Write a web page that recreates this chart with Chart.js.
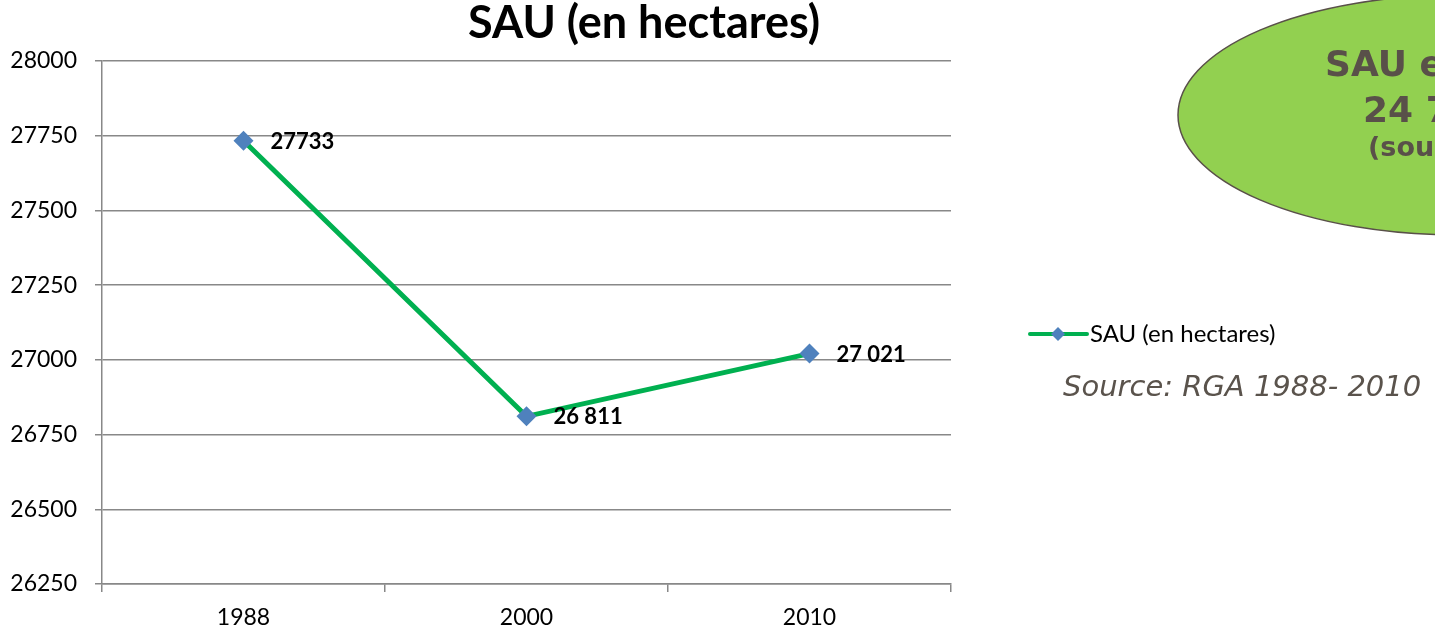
<!DOCTYPE html>
<html>
<head>
<meta charset="utf-8">
<script src="https://cdn.jsdelivr.net/npm/chart.js@4.4.0/dist/chart.umd.min.js"></script>
<style>
  html, body { margin: 0; padding: 0; background: #fff; overflow: hidden; }
  #wrap { width: 1435px; height: 629px; position: relative; }
</style>
</head>
<body>
<div id="wrap"><canvas id="sau" width="1435" height="629"></canvas></div>
<script>
const years = ["1988", "2000", "2010"];
const sau = [27733, 26811, 27021];
const sauLabels = ["27733", "26 811", "27 021"];
const yTicks = [26250, 26500, 26750, 27000, 27250, 27500, 27750, 28000];
const seriesName = "SAU (en hectares)";
const chartTitle = "SAU (en hectares)";

const green = "#00B050";
const blue = "#4F81BD";
const gridGrey = "#888888";
const brownGrey = "#595049";

// value labels next to each point
const pointLabels = {
    id: "pointLabels",
    afterDatasetsDraw(chart) {
        const ctx = chart.ctx;
        const meta = chart.getDatasetMeta(0);
        ctx.save();
        ctx.font = "bold 22px Lato";
        ctx.fillStyle = "#000";
        ctx.textBaseline = "middle";
        ctx.textAlign = "left";
        meta.data.forEach((pt, i) => {
            ctx.fillText(sauLabels[i], pt.x + 27, pt.y + 1);
        });
        ctx.restore();
    }
};

// title, legend, source and the green bubble
const extras = {
    id: "extras",
    afterDraw(chart) {
        const ctx = chart.ctx;
        ctx.save();

        ctx.font = "bold 45px Lato";
        ctx.fillStyle = "#000";
        ctx.textAlign = "center";
        ctx.textBaseline = "alphabetic";
        ctx.fillText(chartTitle, 644, 38);

        // bubble
        ctx.beginPath();
        ctx.ellipse(1458, 115, 280, 120, 0, 0, Math.PI * 2);
        ctx.fillStyle = "#92D050";
        ctx.fill();
        ctx.lineWidth = 1.5;
        ctx.strokeStyle = brownGrey;
        ctx.stroke();
        ctx.fillStyle = brownGrey;
        ctx.textAlign = "left";
        ctx.font = "bold 36px 'DejaVu Sans'";
        ctx.fillText("SAU e", 1325, 76);
        ctx.fillText("24 7", 1363, 122);
        ctx.font = "bold 27px 'DejaVu Sans'";
        ctx.fillText("(sou", 1368, 156);

        // legend
        const ds = chart.data.datasets[0];
        ctx.beginPath();
        ctx.moveTo(1030, 334);
        ctx.lineTo(1087, 334);
        ctx.lineWidth = 4;
        ctx.lineCap = "round";
        ctx.strokeStyle = ds.borderColor;
        ctx.stroke();
        ctx.beginPath();
        ctx.moveTo(1058 - 7, 334);
        ctx.lineTo(1058, 334 - 7);
        ctx.lineTo(1058 + 7, 334);
        ctx.lineTo(1058, 334 + 7);
        ctx.closePath();
        ctx.fillStyle = ds.pointBackgroundColor;
        ctx.fill();
        ctx.fillStyle = "#000";
        ctx.font = "24px Lato";
        ctx.textBaseline = "middle";
        ctx.fillText(ds.label, 1090, 334);

        ctx.fillStyle = "#5a534c";
        ctx.font = "italic 29px 'DejaVu Sans'";
        ctx.textBaseline = "alphabetic";
        ctx.fillText("Source: RGA 1988- 2010", 1063, 396);

        ctx.restore();
    }
};

new Chart(document.getElementById("sau"), {
    type: "line",
    data: {
        labels: years,
        datasets: [{
            label: seriesName,
            data: sau,
            borderColor: green,
            borderWidth: 5,
            tension: 0,
            pointStyle: "rectRot",
            pointRadius: 10,
            pointHoverRadius: 10,
            pointBackgroundColor: blue,
            pointBorderColor: blue,
            pointBorderWidth: 0,
            clip: false
        }]
    },
    options: {
        responsive: false,
        animation: false,
        devicePixelRatio: 1,
        layout: { padding: { top: 61, right: 484, bottom: 0, left: 0 } },
        plugins: {
            legend: { display: false },
            title: { display: false },
            tooltip: { enabled: false }
        },
        scales: {
            x: {
                offset: true,
                grid: {
                    offset: true,
                    drawOnChartArea: false,
                    drawTicks: true,
                    tickLength: 8,
                    color: gridGrey,
                    lineWidth: 1.5
                },
                border: { display: true, color: gridGrey, width: 1.5 },
                ticks: { color: "#000", font: { family: "Lato", size: 23 }, padding: 12 },
                afterFit: s => { s.height = 45; }
            },
            y: {
                min: 26250,
                max: 28000,
                afterBuildTicks: s => { s.ticks = yTicks.map(v => ({ value: v })); },
                grid: { color: gridGrey, lineWidth: 1.5, tickLength: 7 },
                border: { display: true, color: gridGrey, width: 1.5 },
                ticks: {
                    color: "#000",
                    font: { family: "Lato", size: 23 },
                    padding: 18,
                    callback: v => String(v)
                },
                afterFit: s => { s.width = 102; }
            }
        }
    },
    plugins: [pointLabels, extras]
});
</script>
</body>
</html>
